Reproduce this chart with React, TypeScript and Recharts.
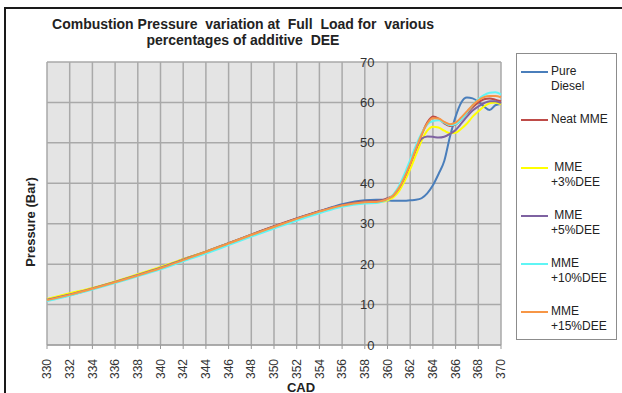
import React from "react";
import {
  LineChart,
  Line,
  XAxis,
  YAxis,
  CartesianGrid,
} from "recharts";

// crank angle (deg) and cylinder pressure (bar)
const cad = [
  330, 332, 334, 336, 338, 340, 342, 344, 346, 348, 350, 352, 354, 356, 358,
  359, 359.5, 360, 360.5, 361, 361.5, 362, 362.5, 363, 363.5, 364, 364.5, 365,
  365.5, 366, 366.5, 367, 367.5, 368, 368.5, 369, 369.5, 370,
];

const pureDiesel = [
  11.2, 12.5, 14.0, 15.6, 17.3, 19.1, 21.1, 23.1, 25.2, 27.3, 29.3, 31.3, 33.1, 34.8, 35.8,
  35.9, 35.9, 35.8, 35.7, 35.7, 35.7, 35.8, 35.9, 36.3, 37.5, 39.5, 42.3, 45.5,
  51.5, 56.5, 60.0, 61.2, 61.0, 60.2, 59.0, 58.1, 59.3, 59.6,
];
const neatMme = [
  11.3, 12.3, 13.9, 15.5, 17.2, 19.0, 21.2, 23.1, 25.2, 27.3, 29.4, 31.3, 33.1, 34.6, 35.5,
  35.6, 35.8, 36.3, 37.0, 38.8, 41.2, 44.5, 48.2, 52.0, 55.0, 56.5, 56.0, 54.8,
  54.2, 54.5, 55.8, 57.3, 58.8, 60.0, 60.8, 61.0, 60.7, 60.3,
];
const mme3 = [
  11.4, 12.8, 14.1, 15.7, 17.5, 19.3, 21.2, 23.1, 25.1, 27.2, 29.2, 31.1, 32.9, 34.4, 35.2,
  35.2, 35.4, 35.8, 36.5, 38.0, 40.5, 43.5, 47.0, 50.5, 53.0, 54.0, 53.8, 53.0,
  52.4, 52.5, 53.5, 54.8, 56.5, 57.8, 59.0, 59.8, 60.0, 59.5,
];
const mme5 = [
  11.2, 12.5, 14.0, 15.6, 17.3, 19.1, 21.1, 23.0, 25.1, 27.2, 29.2, 31.2, 33.0, 34.5, 35.4,
  35.5, 35.7, 36.2, 37.0, 38.8, 41.5, 45.0, 48.5, 51.0, 51.6, 51.5, 51.3, 51.5,
  52.2, 53.2, 54.8, 56.5, 58.0, 59.0, 59.8, 60.3, 60.3, 59.8,
];
const mme10 = [
  10.9, 12.2, 13.7, 15.3, 17.0, 18.7, 20.7, 22.6, 24.7, 26.8, 28.8, 30.8, 32.6, 34.2, 35.0,
  35.1, 35.4, 36.0, 37.2, 39.3, 42.3, 45.8, 49.3, 52.3, 54.5, 55.4, 55.6, 55.0,
  54.4, 54.6, 55.8, 57.5, 59.3, 60.8, 61.8, 62.4, 62.5, 62.0,
];
const mme15 = [
  11.1, 12.4, 13.9, 15.5, 17.2, 19.0, 21.0, 23.0, 25.1, 27.2, 29.2, 31.2, 33.0, 34.5, 35.3,
  35.4, 35.6, 36.1, 37.0, 38.8, 41.5, 44.8, 48.5, 52.0, 54.8, 56.1, 56.0, 55.2,
  54.6, 55.0, 56.3, 57.8, 59.3, 60.5, 61.3, 61.6, 61.6, 61.3,
];

const xTicks = [
  330, 332, 334, 336, 338, 340, 342, 344, 346, 348, 350, 352, 354, 356, 358,
  360, 362, 364, 366, 368, 370,
];
const yTicks = [0, 10, 20, 30, 40, 50, 60, 70];

const series = [
  { key: "pure", values: pureDiesel, color: "#4a7ebb", label: ["Pure", "Diesel"] },
  { key: "neat", values: neatMme, color: "#be4b48", label: ["Neat MME"] },
  { key: "m3", values: mme3, color: "#ffff00", label: ["\u00a0MME", "+3%DEE"] },
  { key: "m5", values: mme5, color: "#7e62a1", label: ["\u00a0MME", "+5%DEE"] },
  { key: "m10", values: mme10, color: "#5ff5f5", label: ["MME", "+10%DEE"] },
  { key: "m15", values: mme15, color: "#f79646", label: ["MME", "+15%DEE"] },
];

const data = cad.map((c, i) => {
  const row: Record<string, number> = { cad: c };
  series.forEach((s) => (row[s.key] = s.values[i]));
  return row;
});

const W = 622;
const H = 393;
const PLOT_LEFT = 47;
const PLOT_RIGHT = 501;
const PLOT_TOP = 62;
const PLOT_BOTTOM = 345;
const X_AXIS_H = 34;
const Y_AXIS_W = 1;
// value axis crosses the category axis at 360, labels sit left of it
const Y_CROSS = 360;
const yAxisX =
  PLOT_LEFT + ((Y_CROSS - 330) / (370 - 330)) * (PLOT_RIGHT - PLOT_LEFT);

const font = "'Liberation Sans', Arial, sans-serif";

const renderXTick = (props: any) => {
  const { x, y, payload } = props;
  return (
    <text
      x={x}
      y={y + 8}
      dy="0.35em"
      transform={`rotate(-90, ${x}, ${y + 8})`}
      textAnchor="end"
      fontSize={12}
      fill="#333"
      fontFamily={font}
    >
      {payload.value}
    </text>
  );
};

const renderYTick = (props: any) => {
  const { y, payload } = props;
  return (
    <text
      x={yAxisX - 13}
      y={y}
      dy="0.35em"
      textAnchor="end"
      fontSize={13}
      fill="#333"
      fontFamily={font}
    >
      {payload.value}
    </text>
  );
};

const LegendBox = () => (
  <div
    style={{
      position: "absolute",
      left: 516,
      top: 53,
      width: 101,
      height: 287,
      border: "1px solid #8c8c8c",
      background: "#fff",
      boxSizing: "border-box",
      paddingTop: 10,
      fontFamily: font,
      fontSize: 12,
      color: "#222",
    }}
  >
    {series.map((s) => (
      <div key={s.key} style={{ position: "relative", height: 48 }}>
        <div
          style={{
            position: "absolute",
            left: 4,
            top: 7,
            width: 27,
            height: 2,
            background: s.color,
          }}
        />
        <div style={{ position: "absolute", left: 34, top: 0, lineHeight: "15px" }}>
          {s.label.map((l, i) => (
            <div key={i}>{l}</div>
          ))}
        </div>
      </div>
    ))}
  </div>
);

export default function App() {
  return (
    <div
      style={{
        position: "absolute",
        left: 0,
        top: 0,
        width: W,
        height: H,
        background: "#fff",
        overflow: "hidden",
        fontFamily: font,
      }}
    >
      <div
        style={{
          position: "absolute",
          left: 4,
          top: 7,
          width: 700,
          height: 500,
          borderLeft: "2px solid #1a1a1a",
          borderTop: "2px solid #1a1a1a",
        }}
      />
      <div
        style={{
          position: "absolute",
          left: 43,
          width: 400,
          top: 16,
          textAlign: "center",
          fontWeight: "bold",
          fontSize: 14,
          lineHeight: "16px",
          color: "#222",
          whiteSpace: "pre",
        }}
      >
        {"Combustion Pressure  variation at  Full  Load for  various\npercentages of additive  DEE"}
      </div>
      <div
        style={{
          position: "absolute",
          left: 30,
          top: 222,
          transform: "translate(-50%, -50%) rotate(-90deg)",
          fontWeight: "bold",
          fontSize: 13,
          color: "#222",
          whiteSpace: "nowrap",
        }}
      >
        Pressure (Bar)
      </div>
      <div
        style={{
          position: "absolute",
          left: 301,
          top: 387,
          transform: "translate(-50%, -50%)",
          fontWeight: "bold",
          fontSize: 13,
          color: "#222",
        }}
      >
        CAD
      </div>
      <div style={{ position: "absolute", left: 0, top: 0 }}>
        <LineChart
          width={W}
          height={H}
          data={data}
          margin={{
            top: PLOT_TOP,
            left: PLOT_LEFT - Y_AXIS_W,
            right: W - PLOT_RIGHT,
            bottom: H - PLOT_BOTTOM - X_AXIS_H,
          }}
        >
          <CartesianGrid
            fill="#e4e4e4"
            stroke="#a9a9a9"
            strokeWidth={1.5}
            fillOpacity={1}
          />
          <XAxis
            dataKey="cad"
            type="number"
            domain={[330, 370]}
            ticks={xTicks}
            interval={0}
            height={X_AXIS_H}
            stroke="#999"
            tickSize={4}
            tick={renderXTick}
          />
          {series.map((s) => (
            <Line
              key={s.key}
              type="monotone"
              dataKey={s.key}
              stroke={s.color}
              strokeWidth={2}
              dot={false}
              isAnimationActive={false}
            />
          ))}
          <YAxis
            type="number"
            domain={[0, 70]}
            ticks={yTicks}
            interval={0}
            width={Y_AXIS_W}
            axisLine={false}
            tickLine={false}
            tick={renderYTick}
          />
        </LineChart>
      </div>
      <LegendBox />
    </div>
  );
}
